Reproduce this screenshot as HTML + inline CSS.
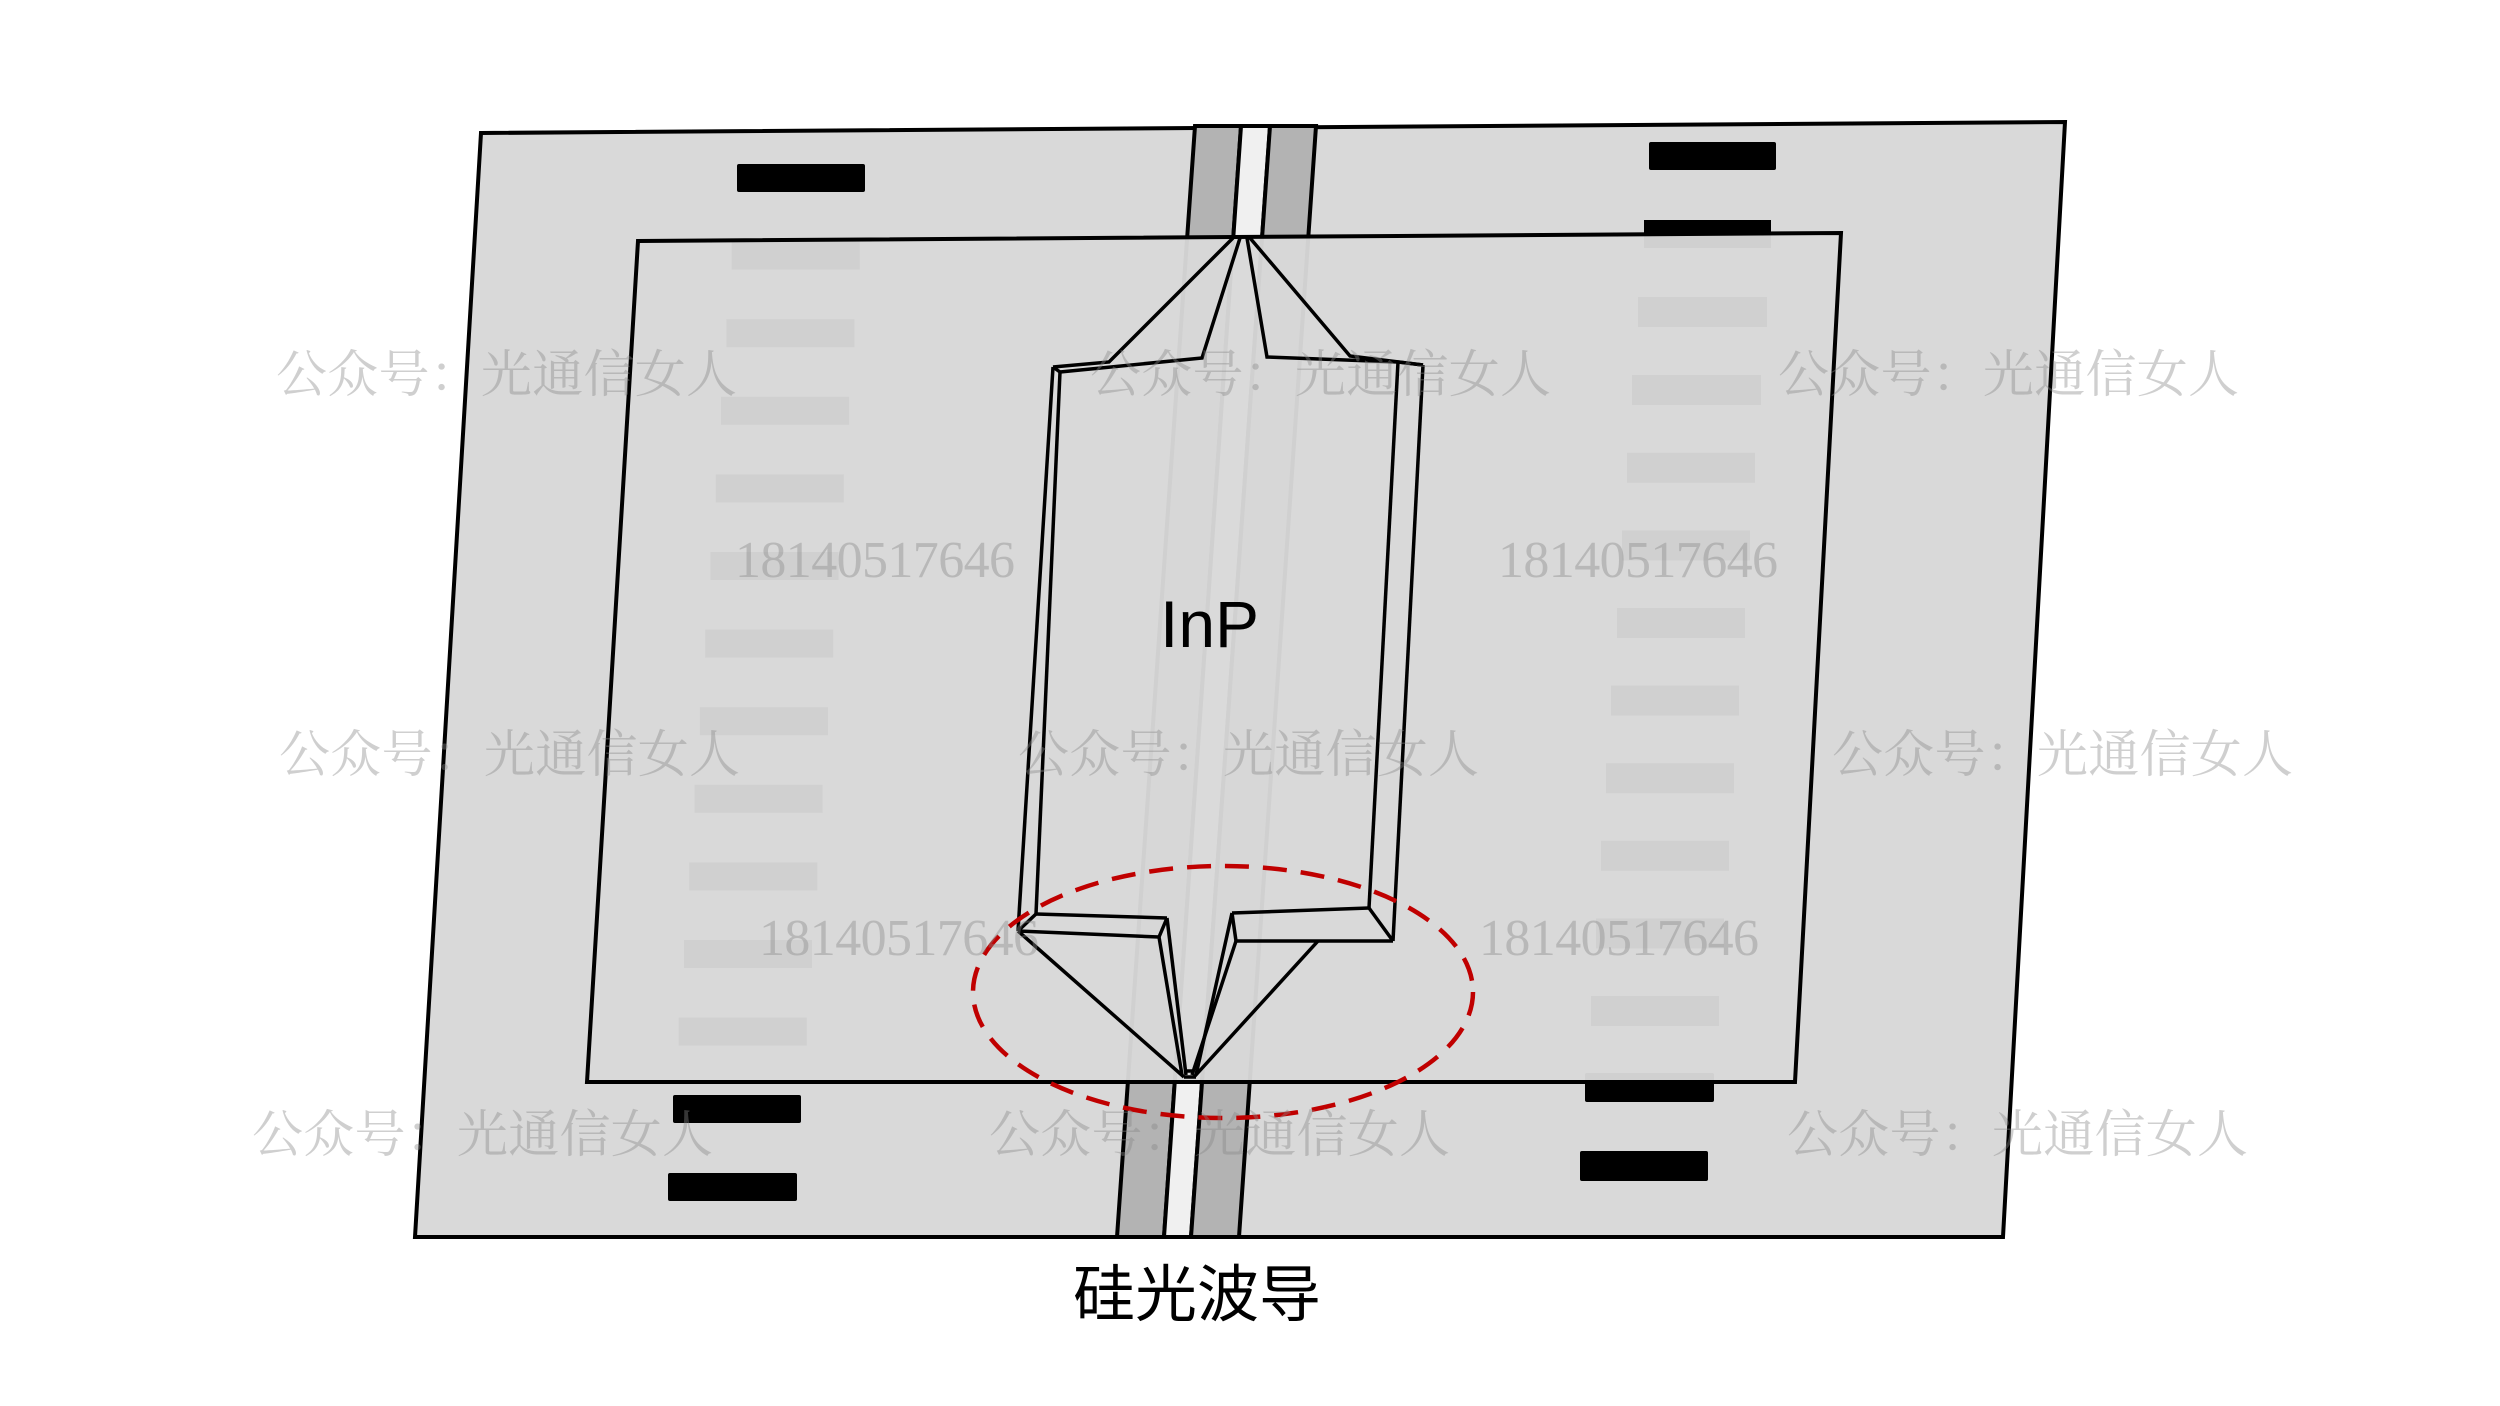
<!DOCTYPE html>
<html><head><meta charset="utf-8"><style>
html,body{margin:0;padding:0;background:#fff;}
svg{display:block;}
</style></head><body>
<svg width="2500" height="1406" viewBox="0 0 2500 1406" xmlns="http://www.w3.org/2000/svg">
<rect width="2500" height="1406" fill="#fff"/>
<polygon points="481,133 2065,122 2003,1237 415,1237" fill="#d9d9d9" stroke="#000" stroke-width="4" stroke-linejoin="miter"/>
<g fill="#000">
<rect x="737" y="164" width="128" height="28" rx="2"/>
<rect x="731.7" y="241.6" width="128" height="28"/>
<rect x="726.4" y="319.2" width="128" height="28"/>
<rect x="721.1" y="396.8" width="128" height="28"/>
<rect x="715.8" y="474.4" width="128" height="28"/>
<rect x="710.5" y="552" width="128" height="28"/>
<rect x="705.2" y="629.6" width="128" height="28"/>
<rect x="699.9" y="707.2" width="128" height="28"/>
<rect x="694.6" y="784.8" width="128" height="28"/>
<rect x="689.3" y="862.4" width="128" height="28"/>
<rect x="684" y="940" width="128" height="28"/>
<rect x="678.7" y="1017.6" width="128" height="28"/>
<rect x="673" y="1095" width="128" height="28" rx="2"/>
<rect x="668" y="1173" width="129" height="28" rx="2"/>
<rect x="1649" y="142" width="127" height="28" rx="2"/>
<rect x="1644" y="220" width="127" height="28"/>
<rect x="1638" y="297" width="129" height="30"/>
<rect x="1632" y="375" width="129" height="30"/>
<rect x="1627" y="452.8" width="128" height="30"/>
<rect x="1622" y="530.4" width="128" height="30"/>
<rect x="1617" y="608" width="128" height="30"/>
<rect x="1611" y="685.6" width="128" height="30"/>
<rect x="1606" y="763.2" width="128" height="30"/>
<rect x="1601" y="840.8" width="128" height="30"/>
<rect x="1596" y="918.4" width="128" height="30"/>
<rect x="1591" y="996" width="128" height="30"/>
<rect x="1585" y="1073" width="129" height="29" rx="2"/>
<rect x="1580" y="1151" width="128" height="30" rx="2"/>
</g>
<polygon points="1195,126 1241,126 1164,1237 1117,1237" fill="#b3b3b3" stroke="#000" stroke-width="4"/>
<polygon points="1241,126 1270,126 1191,1237 1164,1237" fill="#f0f0f0" stroke="#000" stroke-width="4"/>
<polygon points="1270,126 1316,126 1239,1237 1191,1237" fill="#b3b3b3" stroke="#000" stroke-width="4"/>
<polygon points="638,241 1841,233 1795,1082 587,1082" fill="#d9d9d9" fill-opacity="0.96" stroke="#000" stroke-width="4"/>
<g fill="none" stroke="#000" stroke-width="3.5" stroke-linejoin="miter">
<polyline points="1233,238 1109,362 1053,367"/>
<polyline points="1240,238 1202,358 1060,372"/>
<polyline points="1247,238 1267,357 1398,362"/>
<polyline points="1250,238 1350,356 1423,365"/>
<line x1="1053" y1="367" x2="1060" y2="372"/>
<line x1="1398" y1="362" x2="1423" y2="365"/>
<line x1="1053" y1="367" x2="1018" y2="931"/>
<line x1="1060" y1="372" x2="1036" y2="914"/>
<line x1="1398" y1="362" x2="1369" y2="908"/>
<line x1="1423" y1="365" x2="1393" y2="941"/>
<line x1="1018" y1="931" x2="1036" y2="914"/>
<line x1="1036" y1="914" x2="1167" y2="918"/>
<line x1="1018" y1="931" x2="1159" y2="937"/>
<line x1="1167" y1="918" x2="1159" y2="937"/>
<line x1="1232" y1="913" x2="1369" y2="908"/>
<line x1="1236" y1="941" x2="1393" y2="941"/>
<line x1="1369" y1="908" x2="1393" y2="941"/>
<line x1="1232" y1="913" x2="1236" y2="941"/>
<line x1="1167" y1="918" x2="1186" y2="1075"/>
<line x1="1159" y1="937" x2="1182" y2="1075"/>
<line x1="1232" y1="913" x2="1196" y2="1075"/>
<line x1="1236" y1="941" x2="1192" y2="1075"/>
<line x1="1018" y1="931" x2="1184" y2="1077"/>
<line x1="1318" y1="941" x2="1194" y2="1077"/>
<polyline points="1184,1077 1196,1077"/>
<polyline points="1186,1071 1193,1071"/>
</g>
<ellipse cx="1223" cy="992" rx="250" ry="126" fill="none" stroke="#c00000" stroke-width="4.5" stroke-dasharray="24,14"/>
<text x="1160" y="647" font-family="'Liberation Sans','Noto Sans CJK SC',sans-serif" font-size="66" fill="#000">InP</text>
<text x="1073" y="1316" font-family="'Liberation Sans','Noto Sans CJK SC',sans-serif" font-size="62" fill="#000">硅光波导</text>
<g font-family="'Liberation Serif','Noto Serif CJK SC',serif" fill="#888" fill-opacity="0.4">
<text x="276" y="392" font-size="51" textLength="461">公众号：光通信女人</text>
<text x="1090" y="392" font-size="51" textLength="461">公众号：光通信女人</text>
<text x="1778" y="392" font-size="51" textLength="461">公众号：光通信女人</text>
<text x="279" y="772" font-size="51" textLength="461">公众号：光通信女人</text>
<text x="1018" y="772" font-size="51" textLength="461">公众号：光通信女人</text>
<text x="1832" y="772" font-size="51" textLength="461">公众号：光通信女人</text>
<text x="252" y="1152" font-size="51" textLength="461">公众号：光通信女人</text>
<text x="989" y="1152" font-size="51" textLength="461">公众号：光通信女人</text>
<text x="1787" y="1152" font-size="51" textLength="461">公众号：光通信女人</text>
<text x="735" y="577" font-size="52" textLength="280">18140517646</text>
<text x="1498" y="577" font-size="52" textLength="280">18140517646</text>
<text x="759" y="955" font-size="52" textLength="280">18140517646</text>
<text x="1479" y="955" font-size="52" textLength="280">18140517646</text>
</g>
</svg>
</body></html>
